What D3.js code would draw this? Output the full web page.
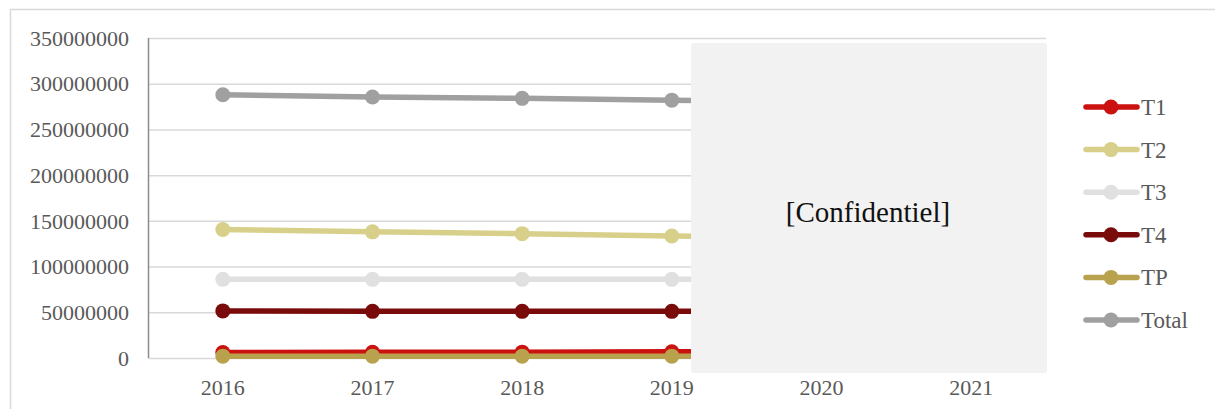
<!DOCTYPE html>
<meta charset="utf-8" />
<style>
    body { margin: 0; background: #fff; }
    text { font-family: "Liberation Serif", "DejaVu Serif", serif; }
    .grid line { stroke: #d9d9d9; stroke-width: 1.5px; }
    .grid path { display: none; }
</style>
<svg width="1215" height="409"></svg>
<script src="https://d3js.org/d3.v7.min.js"></script>
<script>
    const years = ['2016', '2017', '2018', '2019', '2020', '2021'];
    const yTicks = [0, 50000000, 100000000, 150000000, 200000000, 250000000, 300000000, 350000000];

    const seriesNames = ['T1', 'T2', 'T3', 'T4', 'TP', 'Total'];
    const seriesColors = ['#cc1111', '#d8d08a', '#e0e0e0', '#7a0b0b', '#b9a24d', '#a0a0a0'];

    // only 2016-2019 are readable, the rest sits behind the confidential box
    const t1 = [6000000, 6200000, 6400000, 6800000, 6800000, 6800000];
    const t2 = [140500000, 138000000, 136000000, 133500000, 131500000, 130000000];
    const t3 = [86000000, 86000000, 86000000, 86000000, 86000000, 86000000];
    const t4 = [51500000, 51000000, 51000000, 51000000, 51000000, 51000000];
    const tp = [2000000, 2000000, 2000000, 2000000, 2000000, 2000000];
    const total = [288000000, 285500000, 284000000, 282000000, 280000000, 278000000];

    const seriesValues = [t1, t2, t3, t4, tp, total];

    const svg = d3.select('svg');

    // outer chart border
    svg.append('rect')
        .attr('x', 10.5).attr('y', 9.5)
        .attr('width', 1220).attr('height', 420)
        .attr('fill', 'none')
        .attr('stroke', '#d9d9d9')
        .attr('stroke-width', 1.5);

    const plot = { left: 148, right: 1046, top: 38, bottom: 358 };

    const x = d3.scaleBand().domain(years).range([plot.left, plot.right]);
    const y = d3.scaleLinear().domain([0, 350000000]).range([plot.bottom, plot.top]);
    const cx = d => x(d) + x.bandwidth() / 2;

    // gridlines
    svg.append('g')
        .attr('class', 'grid')
        .attr('transform', `translate(${plot.left},0)`)
        .call(d3.axisLeft(y).tickValues(yTicks).tickSize(-(plot.right - plot.left)).tickFormat(''));

    // y axis line
    svg.append('line')
        .attr('x1', plot.left + 0.5).attr('x2', plot.left + 0.5)
        .attr('y1', plot.top).attr('y2', plot.bottom)
        .attr('stroke', '#8c8c8c').attr('stroke-width', 1.5);

    // y labels
    svg.append('g').selectAll('text').data(yTicks).join('text')
        .attr('x', 129)
        .attr('y', d => y(d))
        .attr('dy', '0.35em')
        .attr('text-anchor', 'end')
        .attr('font-size', 22)
        .attr('fill', '#595959')
        .text(d => d);

    // x labels
    svg.append('g').selectAll('text').data(years).join('text')
        .attr('x', d => cx(d))
        .attr('y', 395)
        .attr('text-anchor', 'middle')
        .attr('font-size', 22)
        .attr('fill', '#595959')
        .text(d => d);

    const line = d3.line().x((d, i) => cx(years[i])).y(d => y(d));

    // draw order: TP on top of T1 at the bottom
    const order = [5, 1, 2, 3, 0, 4];
    order.forEach(s => {
        const g = svg.append('g');
        g.append('path')
            .datum(seriesValues[s])
            .attr('d', line)
            .attr('fill', 'none')
            .attr('stroke', seriesColors[s])
            .attr('stroke-width', 5.5)
            .attr('stroke-linecap', 'round');
        g.selectAll('circle').data(seriesValues[s]).join('circle')
            .attr('cx', (d, i) => cx(years[i]))
            .attr('cy', d => y(d))
            .attr('r', 7.5)
            .attr('fill', seriesColors[s]);
    });

    // confidential box
    svg.append('rect')
        .attr('x', 691).attr('y', 43)
        .attr('width', 356).attr('height', 330)
        .attr('rx', 3)
        .attr('fill', '#f2f2f2');
    svg.append('text')
        .attr('x', 868).attr('y', 212)
        .attr('dy', '0.35em')
        .attr('text-anchor', 'middle')
        .attr('font-size', 29)
        .attr('fill', '#111')
        .text('[Confidentiel]');

    // legend
    const legend = svg.append('g').selectAll('g').data(seriesNames).join('g')
        .attr('transform', (d, i) => `translate(0,${107 + i * 42.6})`);
    legend.append('line')
        .attr('x1', 1086).attr('x2', 1137)
        .attr('stroke', (d, i) => seriesColors[i])
        .attr('stroke-width', 5.5)
        .attr('stroke-linecap', 'round');
    legend.append('circle')
        .attr('cx', 1111).attr('r', 7.5)
        .attr('fill', (d, i) => seriesColors[i]);
    legend.append('text')
        .attr('x', 1141)
        .attr('dy', '0.35em')
        .attr('font-size', 23)
        .attr('fill', '#595959')
        .text(d => d);
</script>
